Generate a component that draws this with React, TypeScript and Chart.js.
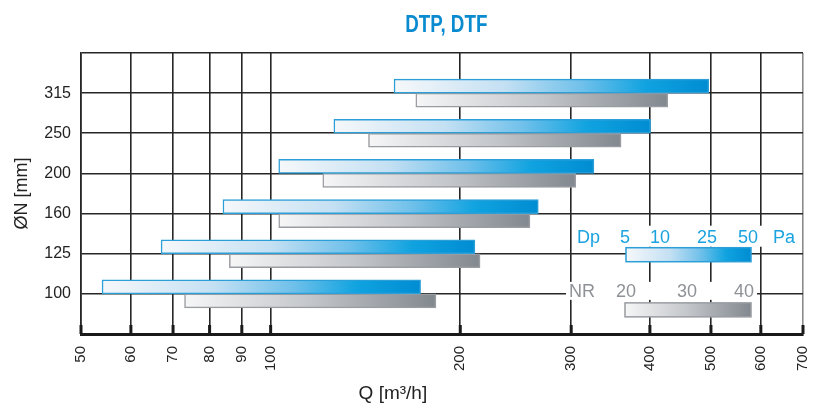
import React, { useEffect, useRef } from 'react';
import { Chart, registerables } from 'chart.js';

Chart.register(...registerables);

// ---- data ----
const TITLE = 'DTP, DTF';
const DN_LABELS = ['100', '125', '160', '200', '250', '315'];
const DP_MIN = [54, 67, 84, 103, 126, 157];
const DP_MAX = [173, 211, 266, 326, 401, 496];
const NR_MIN = [73, 86, 103, 121, 143, 170];
const NR_MAX = [183, 215, 258, 305, 360, 427];
const X_TICKS = [50, 60, 70, 80, 90, 100, 200, 300, 400, 500, 600, 700];
const DP_KEYS = ['5', '10', '25', '50'];
const NR_KEYS = ['20', '30', '40'];

const FONT = "'Liberation Sans', Arial, Helvetica, sans-serif";
const BLUE_STOPS: [number, string][] = [
  [0, '#f6f8fa'],
  [0.35, '#c4e0f3'],
  [0.6, '#6fc0ea'],
  [0.8, '#10a3e0'],
  [1, '#008cd2'],
];
const GRAY_STOPS: [number, string][] = [
  [0, '#f6f6f7'],
  [0.5, '#c3c6ca'],
  [1, '#82888f'],
];
const BLUE_BORDER = '#2c9fd8';
const GRAY_BORDER = '#999ca1';

function makeGradient(ctx: CanvasRenderingContext2D, x0: number, x1: number, stops: [number, string][]) {
  const g = ctx.createLinearGradient(x0, 0, x1, 0);
  stops.forEach(([o, c]) => g.addColorStop(o, c));
  return g;
}

function gradFill(stops: [number, string][]) {
  return (c: any) => {
    const chart = c.chart;
    const raw = c.raw;
    const xs = chart.scales && chart.scales.x;
    const fallback = stops[stops.length - 1][1];
    if (!xs || !raw || !Array.isArray(raw.x)) return fallback;
    const x0 = xs.getPixelForValue(raw.x[0]);
    const x1 = xs.getPixelForValue(raw.x[1]);
    if (!Number.isFinite(x0) || !Number.isFinite(x1) || x0 === x1) return fallback;
    return makeGradient(chart.ctx, x0, x1, stops);
  };
}

const decorPlugin = {
  id: 'decor',
  beforeDatasetsDraw(chart: any) {
    const { ctx, chartArea: a, scales } = chart;
    ctx.save();
    ctx.fillStyle = '#1a1a1a';
    X_TICKS.forEach((v) => {
      const px = scales.x.getPixelForValue(v);
      ctx.fillRect(px - 1.5, a.bottom - 9, 3, 9);
    });
    ctx.restore();
  },
  afterDatasetsDraw(chart: any) {
    const { ctx, chartArea: a, scales } = chart;
    const R = a.right;
    const y125 = scales.y.getPixelForValue(2);
    const y100 = scales.y.getPixelForValue(1);
    ctx.save();

    // title (condensed bold)
    ctx.save();
    ctx.translate(a.left + (a.right - a.left) * 0.506, 32);
    ctx.scale(0.8, 1);
    ctx.font = `bold 23.5px ${FONT}`;
    ctx.fillStyle = '#0a8bd0';
    ctx.textAlign = 'center';
    ctx.textBaseline = 'alphabetic';
    ctx.fillText(TITLE, 0, 0);
    ctx.restore();

    // Dp legend row
    ctx.fillStyle = '#ffffff';
    ctx.fillRect(R - 229, y125 - 28, 226, 21);
    ctx.font = `18px ${FONT}`;
    ctx.fillStyle = '#1aa3df';
    ctx.textBaseline = 'alphabetic';
    ctx.textAlign = 'left';
    ctx.fillText('Dp', R - 226, y125 - 11);
    ctx.fillText('Pa', R - 30, y125 - 11);
    ctx.textAlign = 'center';
    const dpX = [178, 143, 96, 55];
    DP_KEYS.forEach((t, i) => ctx.fillText(t, R - dpX[i], y125 - 11));
    {
      const x0 = R - 177, x1 = R - 52, y0 = y125 - 6, h = 14;
      ctx.fillStyle = makeGradient(ctx, x0, x1, BLUE_STOPS);
      ctx.fillRect(x0, y0, x1 - x0, h);
      ctx.strokeStyle = BLUE_BORDER;
      ctx.lineWidth = 1.5;
      ctx.strokeRect(x0, y0, x1 - x0, h);
    }

    // NR legend row
    ctx.fillStyle = '#ffffff';
    ctx.fillRect(R - 237, y100 - 12, 191, 18);
    ctx.fillStyle = '#8e9196';
    ctx.textAlign = 'left';
    ctx.fillText('NR', R - 234, y100 + 3);
    ctx.textAlign = 'center';
    const nrX = [177, 116, 59];
    NR_KEYS.forEach((t, i) => ctx.fillText(t, R - nrX[i], y100 + 3));
    {
      const x0 = R - 178, x1 = R - 52, y0 = y100 + 9, h = 14;
      ctx.fillStyle = makeGradient(ctx, x0, x1, GRAY_STOPS);
      ctx.fillRect(x0, y0, x1 - x0, h);
      ctx.strokeStyle = GRAY_BORDER;
      ctx.lineWidth = 1.5;
      ctx.strokeRect(x0, y0, x1 - x0, h);
    }

    // x axis title
    ctx.font = `19px ${FONT}`;
    ctx.fillStyle = '#222222';
    ctx.textAlign = 'center';
    ctx.textBaseline = 'alphabetic';
    ctx.fillText('Q [m³/h]', a.left + (a.right - a.left) * 0.432, chart.height - 6);
    ctx.restore();
  },
};

export default function App() {
  const ref = useRef<HTMLCanvasElement>(null);
  useEffect(() => {
    const canvas = ref.current;
    if (!canvas) return;
    const blueData = DN_LABELS.map((_, i) => ({ y: i + 1, x: [DP_MIN[i], DP_MAX[i]] }));
    const grayData = DN_LABELS.map((_, i) => ({ y: i + 1, x: [NR_MIN[i], NR_MAX[i]] }));
    const chart = new Chart(canvas, {
      type: 'bar',
      data: {
        datasets: [
          {
            label: 'Dp',
            data: blueData as any,
            backgroundColor: gradFill(BLUE_STOPS) as any,
            borderColor: BLUE_BORDER,
            borderWidth: 1.5,
            borderSkipped: false,
            barThickness: 14,
          },
          {
            label: 'NR',
            data: grayData as any,
            backgroundColor: gradFill(GRAY_STOPS) as any,
            borderColor: GRAY_BORDER,
            borderWidth: 1.5,
            borderSkipped: false,
            barThickness: 14,
          },
        ],
      },
      options: {
        indexAxis: 'y',
        responsive: false,
        animation: false,
        devicePixelRatio: 1,
        layout: { padding: { top: 53, left: 0, right: 13, bottom: 0 } },
        plugins: {
          legend: { display: false },
          tooltip: { enabled: false },
          title: { display: false },
        },
        scales: {
          x: {
            type: 'logarithmic',
            min: 50,
            max: 700,
            offset: false,
            afterBuildTicks: (s: any) => {
              s.ticks = X_TICKS.map((v) => ({ value: v }));
            },
            afterFit: (s: any) => {
              s.height = 71;
              s.paddingLeft = 0;
              s.paddingRight = 0;
            },
            ticks: {
              autoSkip: false,
              minRotation: 90,
              maxRotation: 90,
              padding: 12,
              color: '#222222',
              font: { family: FONT, size: 15 },
              callback: (v: any) => String(v),
            },
            grid: {
              offset: false,
              color: (c: any) => (c.tick && c.tick.value === 700 ? '#8c8c8c' : '#262626'),
              lineWidth: 1.6,
              drawTicks: false,
            },
            border: { color: '#1a1a1a', width: 3 },
          },
          y: {
            type: 'linear',
            min: 0,
            max: 7,
            offset: false,
            afterBuildTicks: (s: any) => {
              s.ticks = [0, 1, 2, 3, 4, 5, 6, 7].map((v) => ({ value: v }));
            },
            afterFit: (s: any) => {
              s.width = 81;
              s.paddingTop = 0;
              s.paddingBottom = 0;
            },
            ticks: {
              padding: 10,
              color: '#222222',
              font: { family: FONT, size: 16 },
              callback: (v: any) => DN_LABELS[Number(v) - 1] ?? '',
            },
            grid: { offset: false, color: '#262626', lineWidth: 1.6, drawTicks: false },
            border: { color: '#262626', width: 1.6 },
            title: {
              display: true,
              text: 'ØN [mm]',
              color: '#222222',
              font: { family: FONT, size: 18 },
              padding: { top: 11, bottom: 0 },
            },
          },
        },
      } as any,
      plugins: [decorPlugin],
    });
    return () => chart.destroy();
  }, []);

  return (
    <div style={{ position: 'fixed', left: 0, top: 0, width: 816, height: 405, background: '#fff' }}>
      <canvas ref={ref} width={816} height={405} style={{ display: 'block' }} />
    </div>
  );
}
